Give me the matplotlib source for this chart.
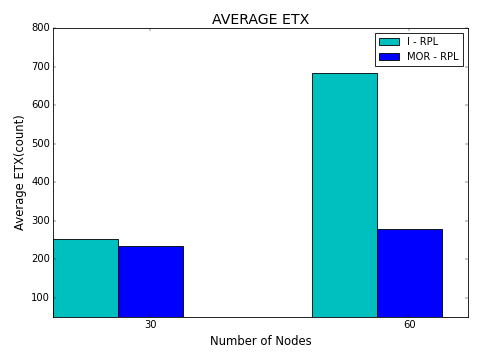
import numpy as np
import matplotlib
matplotlib.use("Agg")
import matplotlib.pyplot as plt

# data
nodes = ["30", "60"]
irpl = [253, 683]
morrpl = [235, 278]

plt.style.use("classic")

ind = np.arange(len(nodes))
width = 0.25

fig, ax = plt.subplots(figsize=(8, 6), dpi=60)
fig.subplots_adjust(left=0.111, right=0.974, top=0.922, bottom=0.119)

ax.bar(ind, irpl, width, color="c", align="edge", label="I - RPL")
ax.bar(ind + width, morrpl, width, color="b", align="edge", label="MOR - RPL")

ax.set_xticks(ind + 1.5 * width)
ax.set_xticklabels(nodes)
ax.set_xlim(0, 1.6)
ax.set_ylim(50, 800)
ax.set_yticks(range(100, 801, 100))
ax.set_xlabel("Number of Nodes", fontsize=14)
ax.set_ylabel("Average ETX(count)", fontsize=14)
ax.set_title("AVERAGE ETX", fontsize=17)
ax.legend(loc="upper right", fontsize=12)

fig.savefig("out.png", dpi=60)
